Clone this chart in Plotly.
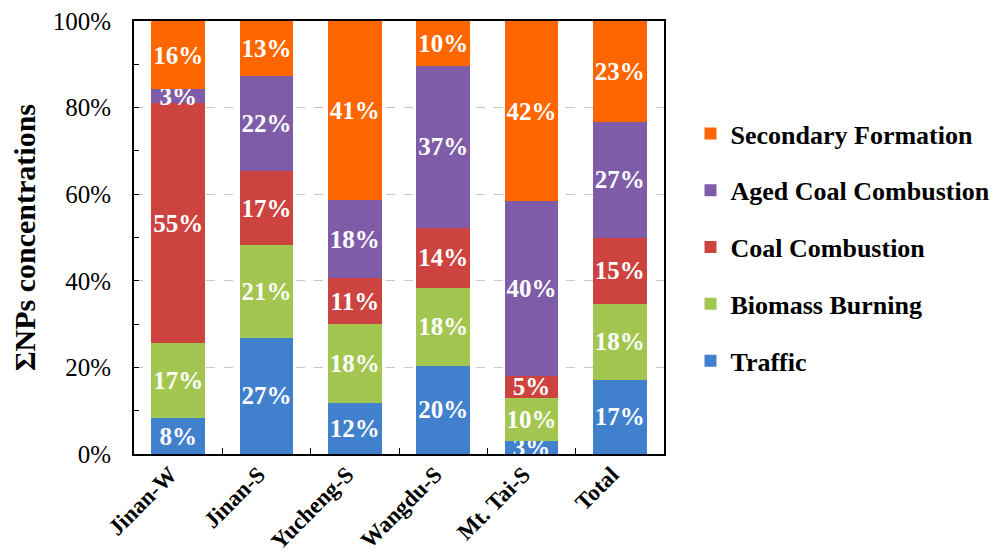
import plotly.graph_objects as go

categories = ["Jinan-W", "Jinan-S", "Yucheng-S", "Wangdu-S", "Mt. Tai-S", "Total"]

traffic = [8.3, 26.9, 11.7, 20.4, 3.1, 17.1]
biomass = [17.3, 21.3, 18.3, 18.0, 9.9, 17.6]
coal = [55.4, 17.1, 10.6, 13.9, 5.1, 15.2]
aged_coal = [3.2, 22.1, 18.0, 37.4, 40.3, 26.8]
secondary = [15.8, 12.6, 41.4, 10.3, 41.6, 23.3]

series_names = ["Traffic", "Biomass Burning", "Coal Combustion",
                "Aged Coal Combustion", "Secondary Formation"]
series_values = [traffic, biomass, coal, aged_coal, secondary]
series_colors = ["#4080CC", "#A2C64F", "#CC4340", "#7F5CA8", "#FF6600"]

FONT = "Liberation Serif"

fig = go.Figure()
n = len(series_names)
for i, (name, vals, col) in enumerate(zip(series_names, series_values, series_colors)):
    fig.add_trace(go.Bar(
        x=categories, y=vals, name=name, legendgroup=name,
        legendrank=n - i,
        marker=dict(color=col, line=dict(width=0)),
        text=[f"{round(v)}%" for v in vals],
        textposition="inside", insidetextanchor="middle", textangle=0,
        constraintext="none", cliponaxis=True,
        textfont=dict(family=FONT, size=25, color="white", weight="bold"),
        hoverinfo="skip",
    ))

fig.update_layout(
    width=1000, height=557,
    barmode="stack", bargap=0.39,
    paper_bgcolor="white", plot_bgcolor="white",
    margin=dict(l=126, r=320, t=13, b=111),
    showlegend=True,
    legend=dict(
        x=1.05, xanchor="left", y=0.478, yanchor="middle",
        traceorder="grouped", tracegroupgap=20,
        font=dict(family=FONT, size=26, color="black", weight="bold"),
        bgcolor="rgba(0,0,0,0)",
    ),
    xaxis=dict(
        automargin=False, ticklabeloverflow="allow",
        ticklabelshift=-8, ticklabelstandoff=-4,
        showline=True, linecolor="black", linewidth=2, mirror=True,
        ticks="inside", tickson="boundaries", ticklen=6, tickcolor="black",
        tickangle=-45,
        tickfont=dict(family=FONT, size=23, color="black", weight="bold"),
        showgrid=False,
    ),
    yaxis=dict(
        automargin=False, ticklabeloverflow="allow", ticklabelstandoff=16,
        range=[0, 100], dtick=20, ticksuffix="%",
        showline=True, linecolor="black", linewidth=2, mirror=True,
        ticks="inside", ticklen=5, tickcolor="black",
        minor=dict(dtick=10, ticks="inside", ticklen=5, tickcolor="black", showgrid=False),
        showgrid=True, gridcolor="#C8C8C8", griddash="dash", gridwidth=1,
        zeroline=False,
        tickfont=dict(family=FONT, size=25, color="black"),
        title=dict(text="ΣNPs concentrations", standoff=13,
                   font=dict(family=FONT, size=30, color="black", weight="bold")),
    ),
)

fig.write_html("out.html")
